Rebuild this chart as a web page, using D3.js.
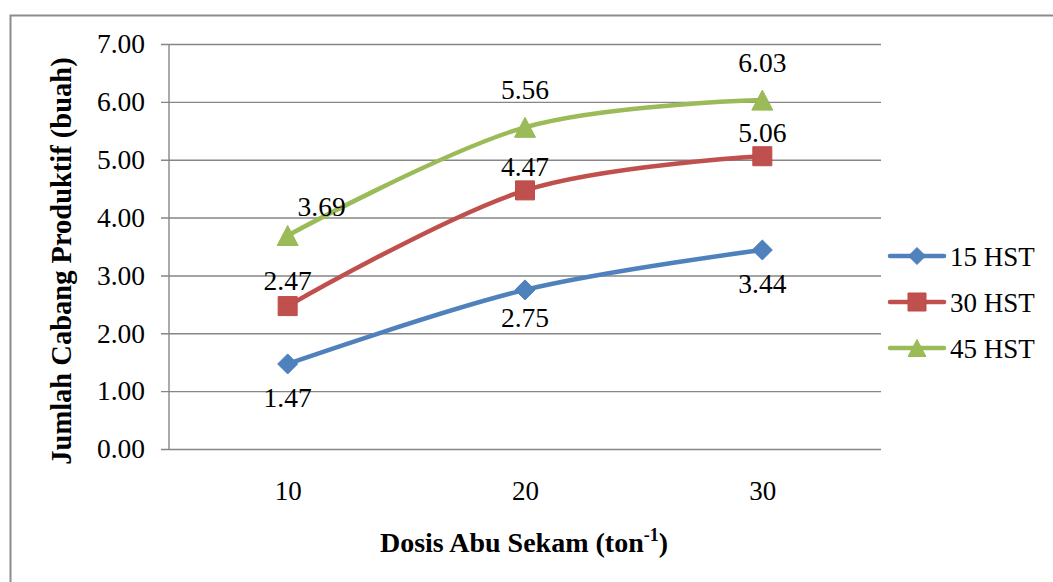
<!DOCTYPE html>
<html>
<head>
<meta charset="utf-8">
<script src="https://cdn.jsdelivr.net/npm/d3@7"></script>
<style>
  html, body { margin: 0; padding: 0; background: #fff; }
  svg { display: block; }
  text { font-family: "Liberation Serif", "Times New Roman", serif; fill: #000; }
</style>
</head>
<body>
<svg id="chart" width="1053" height="582"></svg>
<script>
// Dose categories and productive branch counts per observation day
const categories = ["10", "20", "30"];
const hst15 = [1.47, 2.75, 3.44];
const hst30 = [2.47, 4.47, 5.06];
const hst45 = [3.69, 5.56, 6.03];
const seriesNames = ["15 HST", "30 HST", "45 HST"];
const yTicks = [0, 1, 2, 3, 4, 5, 6, 7];

const series = [
  { name: seriesNames[0], values: hst15, color: "#4F81BD", edge: "#4A7EBB", shape: "diamond", labelDy: 43 },
  { name: seriesNames[1], values: hst30, color: "#C0504D", edge: "#BE4B48", shape: "square", labelDy: -14 },
  { name: seriesNames[2], values: hst45, color: "#9BBB59", edge: "#98B954", shape: "triangle", labelDy: -28 }
];
// individual label nudges (series index, point index) -> [dx, dy]
const labelNudge = { "0-1": [0, -6], "2-0": [34, 8], "1-0": [0, -2] };

const svg = d3.select("#chart");
const plotL = 169, plotR = 881, plotT = 44, plotB = 449;
const fontMain = 27.5;

// outer chart frame (right and bottom edges fall outside the canvas)
svg.append("rect")
  .attr("x", 10.5).attr("y", 15.5).attr("width", 1100).attr("height", 600)
  .attr("fill", "none").attr("stroke", "#8c8c8c").attr("stroke-width", 2);

const x = d3.scalePoint().domain(categories).range([plotL, plotR]).padding(0.5);
const y = d3.scaleLinear().domain([0, 7]).range([plotB, plotT]);

// horizontal gridlines with y axis ticks
const yAxis = d3.axisLeft(y).tickValues(yTicks).tickFormat(d3.format(".2f"))
  .tickSize(-(plotR - plotL)).tickPadding(24);
const gy = svg.append("g").attr("transform", `translate(${plotL},0)`).call(yAxis);
gy.attr("font-family", null);
gy.select(".domain").remove();
gy.selectAll(".tick line").attr("stroke", "#868686").attr("stroke-width", 1.4).attr("x1", -8);
gy.selectAll(".tick text").attr("font-size", fontMain).attr("fill", "#000");

// vertical axis line
svg.append("line").attr("x1", plotL).attr("x2", plotL).attr("y1", plotT).attr("y2", plotB)
  .attr("stroke", "#868686").attr("stroke-width", 1.4);

// category labels
const xAxis = d3.axisBottom(x).tickSize(0).tickPadding(32);
const gx = svg.append("g").attr("transform", `translate(0,${plotB})`).call(xAxis);
gx.attr("font-family", null);
gx.select(".domain").remove();
gx.selectAll(".tick text").attr("font-size", 27).attr("fill", "#000");

// axis titles
const xt = svg.append("text").attr("x", 524).attr("y", 552).attr("text-anchor", "middle")
  .attr("font-size", 28).attr("font-weight", "bold");
xt.append("tspan").text("Dosis Abu Sekam (ton");
xt.append("tspan").attr("font-size", 18).attr("dy", -11).text("-1");
xt.append("tspan").attr("dy", 11).text(")");

svg.append("text").attr("transform", "translate(71,261) rotate(-90)")
  .attr("text-anchor", "middle").attr("font-size", 28.5).attr("font-weight", "bold")
  .text("Jumlah Cabang Produktif (buah)");

function markerPath(shape, s) {
  const h = s / 2;
  if (shape === "diamond") return `M0,${-h}L${h},0L0,${h}L${-h},0Z`;
  if (shape === "square") return `M${-h},${-h}H${h}V${h}H${-h}Z`;
  return `M0,${-h}L${h * 1.05},${h}L${-h * 1.05},${h}Z`;
}
const markerSize = { diamond: 20, square: 19, triangle: 20 };

const line = d3.line()
  .x((d, i) => x(categories[i]))
  .y(d => y(d))
  .curve(d3.curveCardinal.tension(0));

series.forEach((s, si) => {
  const g = svg.append("g");
  g.append("path").attr("d", line(s.values)).attr("fill", "none")
    .attr("stroke", s.color).attr("stroke-width", 4.5).attr("stroke-linecap", "round");
  g.selectAll("path.m").data(s.values).enter().append("path").attr("class", "m")
    .attr("transform", (d, i) => `translate(${x(categories[i])},${y(d)})`)
    .attr("d", markerPath(s.shape, markerSize[s.shape]))
    .attr("fill", s.color).attr("stroke", s.edge).attr("stroke-width", 1);
});

// value labels drawn last so they sit above the lines
series.forEach((s, si) => {
  svg.append("g").selectAll("text").data(s.values).enter().append("text")
    .attr("x", (d, i) => x(categories[i]) + ((labelNudge[si + "-" + i] || [0, 0])[0]))
    .attr("y", (d, i) => y(d) + s.labelDy + ((labelNudge[si + "-" + i] || [0, 0])[1]))
    .attr("text-anchor", "middle").attr("font-size", fontMain)
    .text(d => d.toFixed(2));
});

// legend
const lg = svg.append("g");
series.forEach((s, i) => {
  const cy = 256 + i * 46;
  lg.append("line").attr("x1", 890).attr("x2", 944).attr("y1", cy).attr("y2", cy)
    .attr("stroke", s.color).attr("stroke-width", 4.5).attr("stroke-linecap", "round");
  lg.append("path").attr("transform", `translate(917,${cy})`)
    .attr("d", markerPath(s.shape, s.shape === "triangle" ? 17 : s.shape === "square" ? 18 : 17))
    .attr("fill", s.color).attr("stroke", s.edge).attr("stroke-width", 1);
  lg.append("text").attr("x", 950).attr("y", cy + 10).attr("font-size", 27).text(s.name);
});
</script>
</body>
</html>
